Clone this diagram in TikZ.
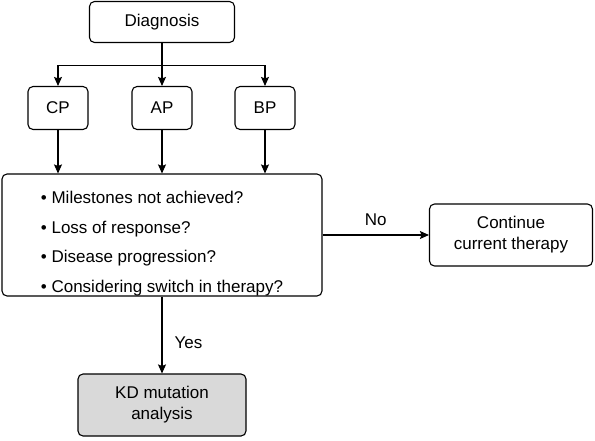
\documentclass[tikz,border=0pt]{standalone}
\usepackage{fontspec}
\setmainfont{Liberation Sans}
\usetikzlibrary{calc, arrows.meta}
\definecolor{kdgray}{RGB}{217,217,217}
\tikzstyle{box} = [draw, rectangle, rounded corners=5pt, align=center,
font=\fontsize{17}{21}\selectfont]
\tikzstyle{phase} = [box, minimum height=43pt, minimum width=60pt]
\tikzstyle{check} = [box, minimum height=122pt, minimum width=320pt]
\tikzstyle{lbl} = [font=\fontsize{17}{20}\selectfont]

\begin{document}
\begin{tikzpicture}[node distance=86pt,auto,>={Stealth[length=9pt,width=8pt,inset=1.5pt]},line width=1.1pt,x=1pt,y=-1pt]
      \useasboundingbox (0,0) rectangle (595,440);
      \node [box, minimum width=145pt, minimum height=41pt] (diag) at (162,22) {Diagnosis};
      \node [phase] (ap) [below of=diag] {AP};
      \node [phase] (cp) [left of=ap, node distance=104pt] {CP};
      \node [phase] (bp) [right of=ap, node distance=103pt] {BP};
      \node [check] (main) [below of=ap, node distance=127pt] {};
      \node [lbl, align=left, font=\fontsize{17}{29.5}\selectfont] (qs) at ($(main.center)+(0,-8.5pt)$)
        {\textbullet\ Milestones not achieved?\\
         \textbullet\ Loss of response?\\
         \textbullet\ Disease progression?\\
         \textbullet\ Considering switch in therapy?};
      \node [box, minimum width=163pt, minimum height=62pt] (cont) [right of=main, node distance=349pt]
        {Continue\\current therapy};
      \node [box, fill=kdgray, minimum width=168pt, minimum height=62pt] (kd) [below of=main, node distance=170pt]
        {KD mutation\\analysis};
      \coordinate (split) at ($(diag.south)+(0,-22pt)$);
      \draw (diag) -- (split);
      \draw[->] (split) -| (cp);
      \draw[->] (split) -- (ap);
      \draw[->] (split) -| (bp);
      \draw[->] (cp) -- (cp |- main.north);
      \draw[->] (ap) -- (main);
      \draw[->] (bp) -- (bp |- main.north);
      \path[->] (main) edge node [lbl, inner sep=9pt] {No} (cont);
      \path[->] (main) edge node [lbl, inner sep=12pt, pos=0.6] {Yes} (kd);
  \end{tikzpicture}
\end{document}
